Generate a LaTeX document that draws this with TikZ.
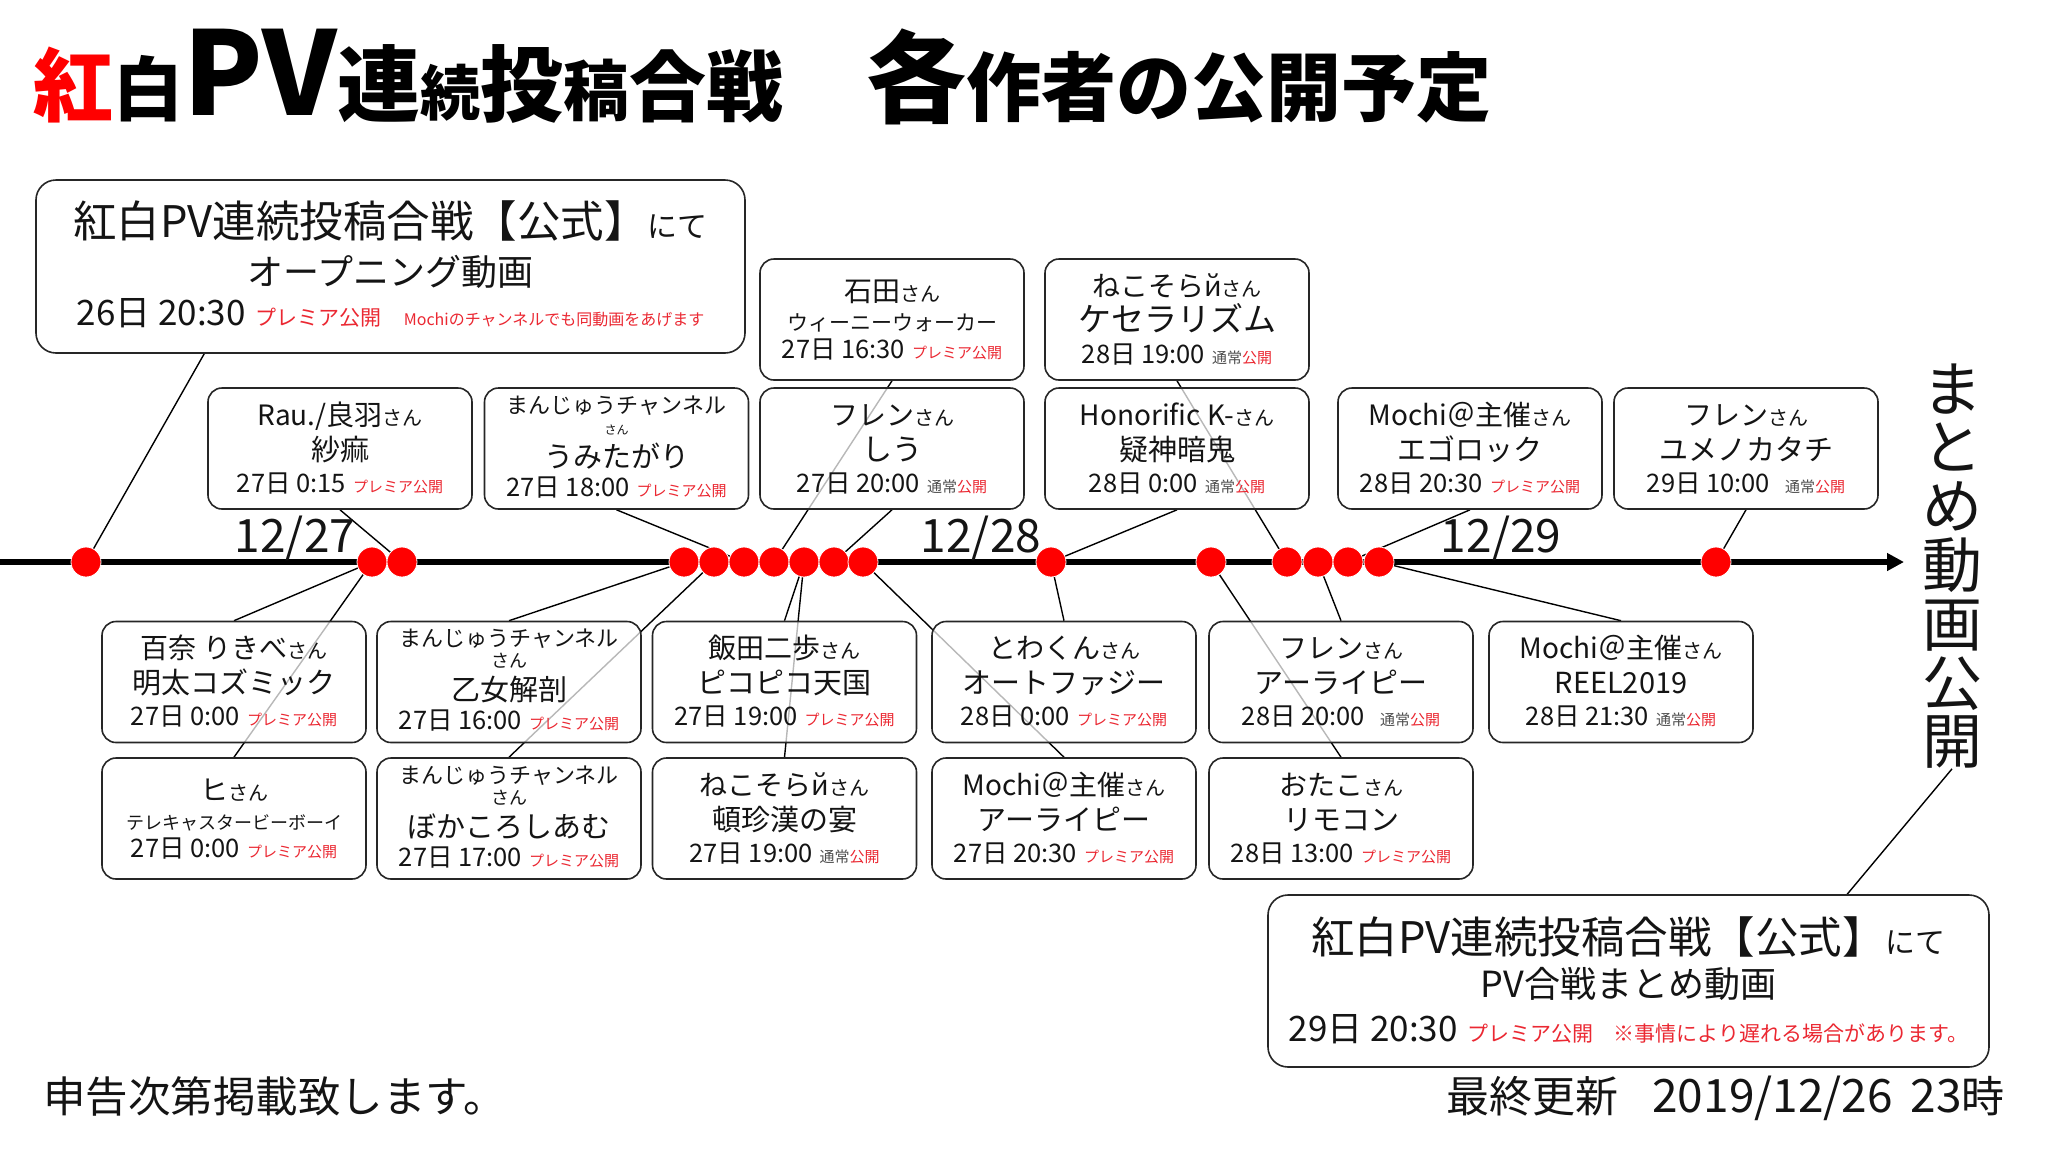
\documentclass[tikz,border=0pt]{standalone}
\usepackage{fontspec}
\setmainfont{Noto Sans CJK JP}
\usetikzlibrary{calc,arrows.meta}
\definecolor{pr}{RGB}{235,40,50}
\definecolor{dotred}{RGB}{255,0,0}
\definecolor{tx}{RGB}{20,20,20}
\newcommand\fs[1]{\fontsize{#1}{#1}\selectfont}
\newcommand\nmx[2]{{\fs{28}#1}{\fs{20}#2}}
\newcommand\tmx[1]{{\fs{25.5}#1}\hspace{7pt}}
\newcommand\prx{{\fs{15}\color{pr}プレミア公開}}
\newcommand\tsx{{\fs{15}\color{tx!75}通常}{\fs{15}\color{pr}公開}}
\pgfdeclarelayer{back}
\pgfdeclarelayer{bg}
\pgfsetlayers{back,bg,main}
\tikzset{
 ebox/.style={draw=black!85, line width=1.6pt, rounded corners=14pt, fill=white, fill opacity=0.72, text opacity=1, minimum width=264pt, minimum height=121pt, inner sep=0pt},
 tl/.style={anchor=base, inner sep=0pt, text=tx},
 conn/.style={draw=black, line width=1.4pt},
 dot/.style={circle, fill=dotred, draw=white, line width=0.8pt, minimum size=30pt, inner sep=0pt},
 datel/.style={anchor=base, inner sep=0pt, font={\fs{46}}, text=tx},
}
\newcommand\card[5]{%
 \node[ebox] (#1) at (#2) {};
 \node[tl] (#1-1) at ($(#1.north)+(0,38)$) {#3};
 \node[tl] (#1-2) at ($(#1.north)+(0,73)$) {#4};
 \node[tl] (#1-3) at ($(#1.north)+(0,105)$) {#5};
}
\newcommand\cardb[5]{%
 \node[ebox] (#1) at (#2) {};
 \node[tl] (#1-1) at ($(#1.north)+(0,43)$) {#3};
 \node[tl] (#1-2) at ($(#1.north)+(0,72)$) {#4};
 \node[tl] (#1-3) at ($(#1.north)+(0,100)$) {#5};
}
\newcommand\mcard[5]{%
 \node[ebox] (#1) at (#2) {};
 \node[tl] (#1-1) at ($(#1.north)+(0,26)$) {{\fs{22}まんじゅうチャンネル}};
 \node[tl] (#1-2) at ($(#1.north)+(0,47)$) {{\fs{#3}さん}};
 \node[tl] (#1-3) at ($(#1.north)+(0,80)$) {#4};
 \node[tl] (#1-4) at ($(#1.north)+(0,109)$) {#5};
}
\begin{document}
\begin{tikzpicture}[x=1pt,y=-1pt]
\begin{pgfonlayer}{back}
\fill[white] (0,0) rectangle (2048,1152);
\end{pgfonlayer}
\useasboundingbox (0,0) rectangle (2048,1152);

% title
\node[anchor=base west, inner sep=0pt, font=\bfseries] (title) at (33,115) {{\color{red}\fs{80}紅}{\fs{70}白}{\fs{116}PV}{\fs{83}連}{\fs{60}続}{\fs{83}投}{\fs{66}稿}{\fs{77}合戦}};
\node[anchor=base west, inner sep=0pt, font=\bfseries] (title2) at (866,115) {{\fs{100}各}{\fs{75}作者の公開予定}};

% opening box
\node[ebox, minimum width=709pt, minimum height=173pt, rounded corners=20pt] (A) at (390.5,266.5) {};
\node[tl] (A-1) at ($(A.north)+(0,58)$) {{\fs{43.5}紅白PV連続投稿合戦【公式】}{\fs{30}にて}};
\node[tl] (A-2) at ($(A.north)+(0,106)$) {{\fs{36}オープニング動画}};
\node[tl] (A-3) at ($(A.north)+(0,146)$) {{\fs{35}26日 20:30}\hspace{10pt}{\fs{21}\color{pr}プレミア公開}\hspace{22pt}{\fs{16}\color{pr}Mochiのチャンネルでも同動画をあげます}};

% final box
\node[ebox, minimum width=721pt, minimum height=172pt, rounded corners=20pt] (U) at (1628.5,981) {};
\node[tl] (U-1) at ($(U.north)+(0,59)$) {{\fs{43.5}紅白PV連続投稿合戦【公式】}{\fs{30}にて}};
\node[tl] (U-2) at ($(U.north)+(0,103)$) {{\fs{36}PV合戦まとめ動画}};
\node[tl] (U-3) at ($(U.north)+(0,147)$) {{\fs{35}29日 20:30}\hspace{10pt}{\fs{21}\color{pr}プレミア公開}\hspace{20pt}{\fs{21}\color{pr}※事情により遅れる場合があります。}};

% upper cards
\cardb{D}{892,319.5}{\nmx{石田}{さん}}{{\fs{21}ウィーニーウォーカー}}{\tmx{27日 16:30}\prx}
\card{F}{1177,319.5}{\nmx{ねこそらй}{さん}}{{\fs{33}ケセラリズム}}{\tmx{28日 19:00}\tsx}
\card{B}{340,448.5}{\nmx{Rau./良羽}{さん}}{{\fs{29}紗痲}}{\tmx{27日 0:15}\prx}
\mcard{C}{616.5,448.5}{12}{{\fs{29}うみたがり}}{\tmx{27日 18:00}\prx}
\card{E}{892,448.5}{\nmx{フレン}{さん}}{{\fs{30}しう}}{\tmx{27日 20:00}\tsx}
\card{G}{1177,448.5}{\nmx{Honorific K-}{さん}}{{\fs{29}疑神暗鬼}}{\tmx{28日 0:00}\tsx}
\card{H}{1470,448.5}{\nmx{Mochi＠主催}{さん}}{{\fs{29}エゴロック}}{\tmx{28日 20:30}\prx}
\card{I}{1746,448.5}{\nmx{フレン}{さん}}{{\fs{29}ユメノカタチ}}{\tmx{29日 10:00}\hspace{8pt}\tsx}

% lower cards
\card{J}{234,682}{\nmx{百奈 りきべ}{さん}}{{\fs{29}明太コズミック}}{\tmx{27日 0:00}\prx}
\mcard{K}{509,682}{18}{{\fs{29}乙女解剖}}{\tmx{27日 16:00}\prx}
\card{L}{784.5,682}{\nmx{飯田二歩}{さん}}{{\fs{29}ピコピコ天国}}{\tmx{27日 19:00}\prx}
\card{M}{1064,682}{\nmx{とわくん}{さん}}{{\fs{29}オートファジー}}{\tmx{28日 0:00}\prx}
\card{N}{1341,682}{\nmx{フレン}{さん}}{{\fs{29}アーライピー}}{\tmx{28日 20:00}\hspace{8pt}\tsx}
\card{O}{1621,682}{\nmx{Mochi＠主催}{さん}}{{\fs{29}REEL2019}}{\tmx{28日 21:30}\tsx}
\cardb{P}{234,818.5}{\nmx{ヒ}{さん}}{{\fs{18}テレキャスタービーボーイ}}{\tmx{27日 0:00}\prx}
\mcard{Q}{509,818.5}{18}{{\fs{29}ぼかころしあむ}}{\tmx{27日 17:00}\prx}
\card{R}{784.5,818.5}{\nmx{ねこそらй}{さん}}{{\fs{29}頓珍漢の宴}}{\tmx{27日 19:00}\tsx}
\card{S}{1064,818.5}{\nmx{Mochi＠主催}{さん}}{{\fs{29}アーライピー}}{\tmx{27日 20:30}\prx}
\card{T}{1341,818.5}{\nmx{おたこ}{さん}}{{\fs{29}リモコン}}{\tmx{28日 13:00}\prx}

% timeline
\coordinate (tl0) at (0,562);
\coordinate (tl1) at (1904,562);
\draw[line width=5.5pt, -{Triangle[length=17pt,width=17pt]}] (tl0) -- (tl1);
\node[datel] (d27) at (295,552) {12/27};
\node[datel] (d28) at (981,552) {12/28};
\node[datel] (d29) at (1501,552) {12/29};

\node[dot] (d1) at (86,562) {};
\node[dot] (d2) at (372,562) {};
\node[dot] (d3) at (402,562) {};
\node[dot] (d4) at (684,562) {};
\node[dot] (d5) at (714,562) {};
\node[dot] (d6) at (744,562) {};
\node[dot] (d7) at (774,562) {};
\node[dot] (d8) at (804,562) {};
\node[dot] (d9) at (834,562) {};
\node[dot] (d10) at (863,562) {};
\node[dot] (d11) at (1051,562) {};
\node[dot] (d12) at (1211,562) {};
\node[dot] (d13) at (1287,562) {};
\node[dot] (d14) at (1318,562) {};
\node[dot] (d15) at (1348,562) {};
\node[dot] (d16) at (1379,562) {};
\node[dot] (d17) at (1716,562) {};

% vertical label
\node[align=center, inner sep=0pt, text=tx, font={\fontsize{60}{58.8}\selectfont}] (vt) at (1952,566) {ま\\と\\め\\動\\画\\公\\開};

% bottom notes
\node[anchor=base west, inner sep=0pt, text=tx] (note) at (43,1112) {\fs{42.5}申告次第掲載致します。};
\node[anchor=base east, inner sep=0pt, text=tx] (upd) at (2005,1112) {{\fs{43}最終更新}\hspace{34pt}{\fs{46}2019/12/26}\hspace{18pt}{\fs{46}23}{\fs{43}時}};

% connectors
\begin{pgfonlayer}{bg}
\draw[conn] ($(A.south west)+(169,0)$) -- (d1.center);
\draw[conn] (B.south) -- (d3.center);
\draw[conn] (d2.center) -- (J.north);
\draw[conn] (d2.center) -- (P.north);
\draw[conn] (C.south) -- (d6.center);
\draw[conn] (D.south) -- (d7.center);
\draw[conn] (E.south) -- (d9.center);
\draw[conn] (d4.center) -- (K.north);
\draw[conn] (d5.center) -- (Q.north);
\draw[conn] (d8.center) -- (L.north);
\draw[conn] (d8.center) -- (R.north);
\draw[conn] (d10.center) -- (S.north);
\draw[conn] (d11.center) -- (G.south);
\draw[conn] (d11.center) -- (M.north);
\draw[conn] (d12.center) -- (T.north);
\draw[conn] (F.south) -- (d13.center);
\draw[conn] (d14.center) -- (N.north);
\draw[conn] (H.south) -- (d15.center);
\draw[conn] (d16.center) -- (O.north);
\draw[conn] (I.south) -- (d17.center);
\draw[conn] (vt.south) -- ($(U.north west)+(580,0)$);
\end{pgfonlayer}
\end{tikzpicture}
\end{document}
